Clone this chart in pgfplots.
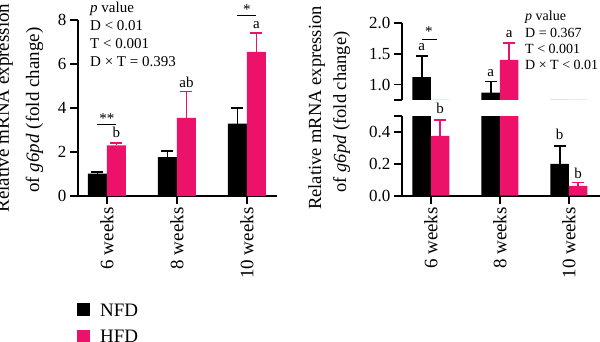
\documentclass[border=0pt]{standalone}
\usepackage{fontspec}
\setmainfont{Liberation Serif}
\usepackage{pgfplots}
\pgfplotsset{compat=1.18}
\definecolor{pinkbar}{RGB}{236,18,106}
\newcommand{\fs}[1]{\fontsize{#1}{#1}\selectfont}
\pgfplotsset{
  common/.style={
    scale only axis,
    axis line style={line width=1.8pt},
    tick style={line width=1.8pt, black},
    tick align=outside,
    major tick length=8pt,
    ybar=0pt,
    clip mode=individual,
    /pgf/number format/assume math mode=true,
    yticklabel style={font=\fs{17}},
    xtick={0,1,2},
    xticklabels={6 weeks, 8 weeks, 10 weeks},
    xticklabel style={rotate=90, anchor=east, font=\fs{19}},
    error bars/y dir=plus,
    error bars/y explicit,
  },
  nfd/.style={fill=black, draw=none,
    error bars/error bar style={line width=1.6pt, black},
    error bars/error mark options={rotate=90, mark size=6pt, line width=1.6pt, black}},
  hfd/.style={fill=pinkbar, draw=none,
    error bars/error bar style={line width=1.6pt, pinkbar},
    error bars/error mark options={rotate=90, mark size=6pt, line width=1.6pt, pinkbar}},
}
\begin{document}
\begin{tikzpicture}
\path[use as bounding box] (0pt,0pt) rectangle (600pt,-342pt);
% ---------------- Left panel ----------------
\begin{axis}[common,
  at={(78pt,-196pt)}, anchor=south west,
  width=199pt, height=176pt,
  bar width=19pt,
  xmin=-0.414, xmax=2.43,
  ymin=0, ymax=8,
  ytick={0,2,4,6,8},
  axis x line*=bottom, axis y line*=left,
  legend style={at={(axis description cs:-0.005,-0.608)}, anchor=north west,
    draw=none, fill=none, font=\fs{19}, row sep=12pt, inner sep=0pt,
    nodes={inner sep=0pt, anchor=base west},
    /tikz/every odd column/.append style={column sep=10pt}},
]
\addplot[nfd, legend image code/.code={\fill[black] (0pt,0pt) rectangle (13pt,13pt);}]
  coordinates {(0,1.02) +- (0,0.06) (1,1.77) +- (0,0.28) (2,3.29) +- (0,0.71)};
\addlegendentry{NFD}
\addplot[hfd, legend image code/.code={\fill[pinkbar] (0pt,0pt) rectangle (13pt,13pt);}]
  coordinates {(0,2.30) +- (0,0.11) (1,3.55) +- (0,1.20) (2,6.55) +- (0,0.85)};
\addlegendentry{HFD}
% annotations
\draw[line width=1.2pt] ([xshift=-9.5pt]axis cs:0,3.245) -- ([xshift=9.5pt]axis cs:0,3.245);
\node[anchor=base, font=\fs{15}, inner sep=0pt] at ([xshift=0pt]axis cs:0,3.30) {**};
\node[anchor=base, font=\fs{15}, inner sep=0pt] at ([xshift=9.5pt]axis cs:0,2.68) {b};
\node[anchor=base, font=\fs{15}, inner sep=0pt] at ([xshift=9.5pt]axis cs:1,4.93) {ab};
\draw[line width=1.2pt] ([xshift=-9.5pt]axis cs:2,8.215) -- ([xshift=9.5pt]axis cs:2,8.215);
\node[anchor=base, font=\fs{15}, inner sep=0pt] at ([xshift=0pt]axis cs:2,8.27) {*};
\node[anchor=base, font=\fs{15}, inner sep=0pt] at ([xshift=9.5pt]axis cs:2,7.61) {a};
\end{axis}
% p values left
\node[anchor=base west, font=\fs{15}, inner sep=0pt] at (90pt,-13pt) {\textit{p} value};
\node[anchor=base west, font=\fs{15}, inner sep=0pt] at (90pt,-31pt) {D < 0.01};
\node[anchor=base west, font=\fs{15}, inner sep=0pt] at (90pt,-49pt) {T < 0.001};
\node[anchor=base west, font=\fs{15}, inner sep=0pt] at (90pt,-67pt) {D × T = 0.393};
% y label left
\node[rotate=90, anchor=base, font=\fs{19}, inner sep=0pt] at (8.8pt,-108pt) {Relative mRNA expression};
\node[rotate=90, anchor=base, font=\fs{19}, inner sep=0pt] at (39pt,-110pt) {of \textit{g6pd} (fold change)};
% ---------------- Right panel, lower ----------------
\begin{axis}[common,
  at={(402pt,-195.7pt)}, anchor=south west,
  width=198pt, height=79.7pt,
  bar width=18.5pt,
  xmin=-0.42, xmax=2.45,
  ymin=0, ymax=0.5,
  ytick={0,0.2,0.4},
  extra y ticks={0.5}, extra y tick labels={},
  yticklabel style={/pgf/number format/.cd, fixed, fixed zerofill, precision=1},
  axis x line*=bottom, axis y line*=left,
]
\addplot[nfd] coordinates {(0,1.12) +- (0,0.345) (1,0.868) +- (0,0.178) (2,0.199) +- (0,0.113)};
\addplot[hfd] coordinates {(0,0.376) +- (0,0.099) (1,1.397) +- (0,0.27) (2,0.061) +- (0,0.021)};
\node[anchor=base, font=\fs{15}, inner sep=0pt] at ([xshift=9.25pt]axis cs:0,0.517) {b};
\node[anchor=base, font=\fs{15}, inner sep=0pt] at ([xshift=-9.25pt]axis cs:2,0.3525) {b};
\node[anchor=base, font=\fs{15}, inner sep=0pt] at ([xshift=9.25pt]axis cs:2,0.110) {b};
\end{axis}
% ---------------- Right panel, upper ----------------
\begin{axis}[common,
  at={(402pt,-100pt)}, anchor=south west,
  width=198pt, height=77.3pt,
  bar width=18.5pt,
  xmin=-0.42, xmax=2.45,
  ymin=0.75, ymax=2.0,
  ytick={1.0,1.5,2.0},
  extra y ticks={0.75}, extra y tick labels={},
  yticklabel style={/pgf/number format/.cd, fixed, fixed zerofill, precision=1},
  axis x line=none, axis y line*=left,
]
\addplot[nfd] coordinates {(0,1.12) +- (0,0.345) (1,0.868) +- (0,0.178) (2,0.199) +- (0,0.113)};
\addplot[hfd] coordinates {(0,0.376) +- (0,0.099) (1,1.397) +- (0,0.27) (2,0.061) +- (0,0.021)};
\node[anchor=base, font=\fs{15}, inner sep=0pt] at ([xshift=-9.25pt]axis cs:0,1.557) {a};
\draw[line width=1.2pt] ([xshift=-9.25pt]axis cs:0,1.73) -- ([xshift=6pt]axis cs:0,1.73);
\node[anchor=base, font=\fs{15}, inner sep=0pt] at ([xshift=-2pt]axis cs:0,1.78) {*};
\node[anchor=base, font=\fs{15}, inner sep=0pt] at ([xshift=-9.25pt]axis cs:1,1.122) {a};
\node[anchor=base, font=\fs{15}, inner sep=0pt] at ([xshift=9.25pt]axis cs:1,1.763) {a};
\end{axis}
% p values right
\node[anchor=base west, font=\fs{14}, inner sep=0pt] at (525pt,-21pt) {\textit{p} value};
\node[anchor=base west, font=\fs{14}, inner sep=0pt] at (525pt,-37.3pt) {D = 0.367};
\node[anchor=base west, font=\fs{14}, inner sep=0pt] at (525pt,-54pt) {T < 0.001};
\node[anchor=base west, font=\fs{14}, inner sep=0pt] at (525pt,-70pt) {D × T < 0.01};
% y label right
\node[rotate=90, anchor=base, font=\fs{18.5}, inner sep=0pt] at (321pt,-108pt) {Relative mRNA expression};
\node[rotate=90, anchor=base, font=\fs{18.5}, inner sep=0pt] at (346pt,-112pt) {of \textit{g6pd} (fold change)};
\end{tikzpicture}
\end{document}
